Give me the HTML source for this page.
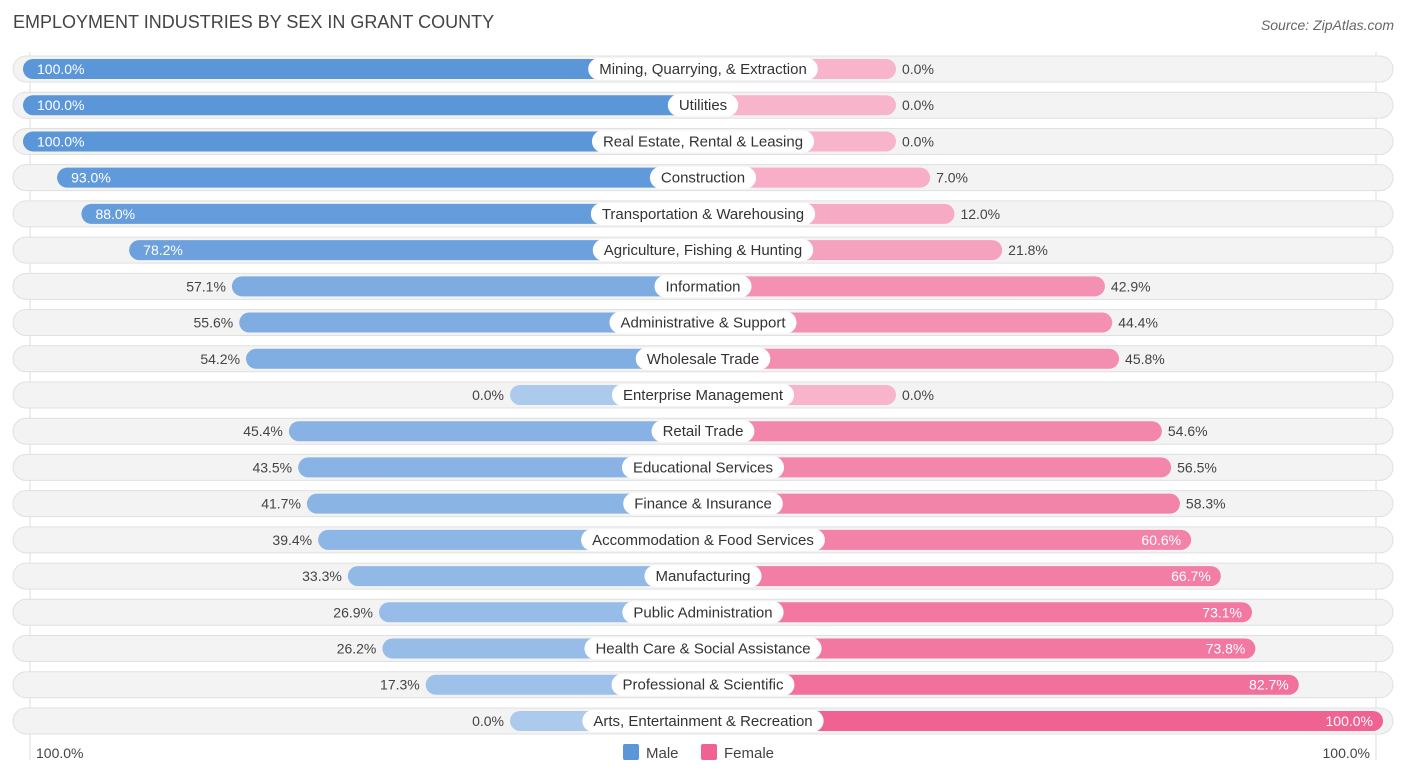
<!DOCTYPE html>
<html><head><meta charset="utf-8"><style>
body{margin:0;width:1406px;height:776px;background:#fff;font-family:"Liberation Sans",sans-serif;position:relative;overflow:hidden}
.t{position:absolute;white-space:nowrap}
</style></head><body>
<div class="t" style="left:13px;top:12px;font-size:18px;color:#444">EMPLOYMENT INDUSTRIES BY SEX IN GRANT COUNTY</div>
<div class="t" style="right:12px;top:17px;font-size:14px;color:#666;font-style:italic">Source: ZipAtlas.com</div>
<svg id="c" width="1406" height="776" style="position:absolute;left:0;top:0;font-family:'Liberation Sans',sans-serif"></svg>
<script>
const categories=["Mining, Quarrying, & Extraction","Utilities","Real Estate, Rental & Leasing","Construction","Transportation & Warehousing","Agriculture, Fishing & Hunting","Information","Administrative & Support","Wholesale Trade","Enterprise Management","Retail Trade","Educational Services","Finance & Insurance","Accommodation & Food Services","Manufacturing","Public Administration","Health Care & Social Assistance","Professional & Scientific","Arts, Entertainment & Recreation"];
const maleValues=[100,100,100,93,88,78.2,57.1,55.6,54.2,0,45.4,43.5,41.7,39.4,33.3,26.9,26.2,17.3,0];
const femaleValues=[0,0,0,7,12,21.8,42.9,44.4,45.8,0,54.6,56.5,58.3,60.6,66.7,73.1,73.8,82.7,100];
const axisLabels=["100.0%","100.0%"];
const NS="http://www.w3.org/2000/svg";
const svg=document.getElementById('c');
const cx=703,base=193,k=4.87,top0=69,pitch=36.22;
function xScale(v){return base+v*k;}
function yPos(i){return top0+i*pitch;}
function mk(t,a,p){const e=document.createElementNS(NS,t);for(const n in a)e.setAttribute(n,a[n]);(p||svg).appendChild(e);return e;}
function mix(a,b,t){return 'rgb('+a.map((x,i)=>Math.round(x+(b[i]-x)*t)).join(',')+')';}
mk('line',{x1:30,y1:52,x2:30,y2:760,stroke:'#ddd'});
mk('line',{x1:1376,y1:52,x2:1376,y2:760,stroke:'#ddd'});
categories.forEach((c,i)=>{
  const y=yPos(i);
  const g=mk('g',{});
  
  
  const bg=mk('rect',{x:13,y:y-13,width:1380,height:26,rx:13,fill:'#f3f3f3',stroke:'#e0e0e0'},g);
  
  
  const m=maleValues[i],f=femaleValues[i];
  const mw=xScale(m),fw=xScale(f);
  const mb=mk('rect',{x:cx-mw,y:y-10,width:mw,height:20,rx:10,fill:mix([172,202,236],[91,150,217],m/100)},g);
  
  
  const fb=mk('rect',{x:cx,y:y-10,width:fw,height:20,rx:10,fill:mix([247,180,202],[240,98,146],f/100)},g);
  
  
  const mIn=m>=60,fIn=f>=60;
  const mt=mk('text',{x:mIn?cx-mw+14:cx-mw-6,y:y+5,'font-size':14,fill:mIn?'#fff':'#444','text-anchor':mIn?'start':'end'},g);
  mt.textContent=m.toFixed(1)+'%';
  
  
  const ft=mk('text',{x:fIn?cx+fw-10:cx+fw+6,y:y+5,'font-size':14,fill:fIn?'#fff':'#444','text-anchor':fIn?'end':'start'},g);
  ft.textContent=f.toFixed(1)+'%';
  
  
  const lt=mk('text',{x:cx,y:y+5,'font-size':15,fill:'#333','text-anchor':'middle'},g);
  lt.textContent=c;
  const w=lt.getComputedTextLength()+22;
  const lb=mk('rect',{x:cx-w/2,y:y-11,width:w,height:22,rx:11,fill:'#fff'},g);
  g.insertBefore(lb,lt);
  
  
  
  
});
const a1=mk('text',{x:36,y:758,'font-size':14,fill:'#444'});a1.textContent=axisLabels[0];


const a2=mk('text',{x:1370,y:758,'font-size':14,fill:'#444','text-anchor':'end'});a2.textContent=axisLabels[1];


const l1=mk('rect',{x:623,y:744,width:16,height:16,rx:2,fill:'#5b96d9'});


const l1t=mk('text',{x:646,y:758,'font-size':15,fill:'#444'});l1t.textContent='Male';


const l2=mk('rect',{x:701,y:744,width:16,height:16,rx:2,fill:'#f06292'});


const l2t=mk('text',{x:724,y:758,'font-size':15,fill:'#444'});l2t.textContent='Female';


</script>
</body></html>
